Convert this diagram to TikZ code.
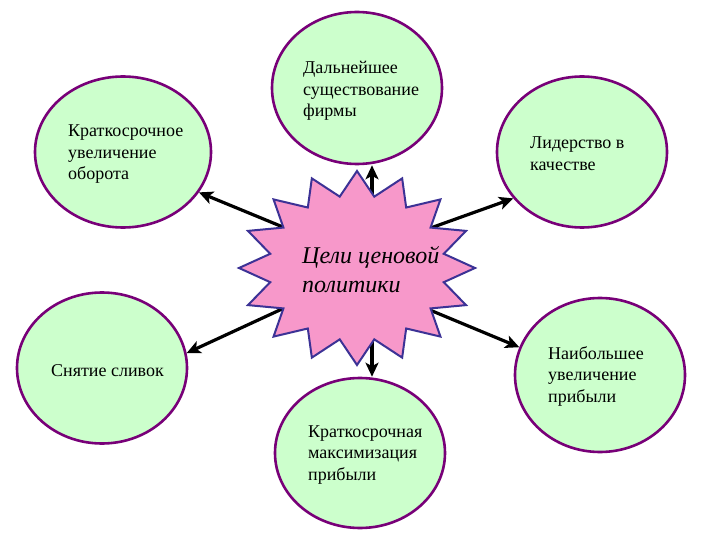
\documentclass[tikz,border=0pt]{standalone}
\usepackage{fontspec}
\setmainfont{Liberation Serif}
\usetikzlibrary{shapes.geometric,arrows.meta}
\definecolor{ellfill}{RGB}{204,255,204}
\definecolor{elldraw}{RGB}{120,0,120}
\definecolor{starfill}{RGB}{247,152,202}
\definecolor{stardraw}{RGB}{60,50,150}
\newcommand\mylines[1]{\parbox[t]{6cm}{\raggedright #1}}
\tikzset{
  goalell/.style={ellipse, draw=elldraw, fill=ellfill, line width=2.6pt, inner sep=0pt},
  lbl/.style={anchor=base west, inner sep=0pt, font=\fontsize{18}{21.5}\selectfont},
  bigtxt/.style={anchor=base west, inner sep=0pt, font=\fontsize{24}{29}\selectfont\itshape},
  arr/.style={line width=3.2pt, -{Stealth[length=14pt,width=13pt,inset=3.5pt]}},
  starsty/.style={draw=stardraw, fill=starfill, line width=2pt, line join=miter}
}
\begin{document}
\begin{tikzpicture}[x=1pt,y=-1pt]
\useasboundingbox[fill=white] (0,0) rectangle (720,540);
% ellipses
\node[goalell, minimum width=176pt, minimum height=151pt] (tl) at (123,152) {};
\node[goalell, minimum width=170pt, minimum height=152pt] (top) at (357,88) {};
\node[goalell, minimum width=170pt, minimum height=151pt] (tr) at (582,152) {};
\node[goalell, minimum width=170pt, minimum height=151pt] (lft) at (102,368) {};
\node[goalell, minimum width=170pt, minimum height=154pt] (rgt) at (600,375) {};
\node[goalell, minimum width=170pt, minimum height=150pt] (bot) at (360,453) {};
% texts
\node[lbl] (ttl) at (68,137) {\mylines{Краткосрочное\\увеличение\\оборота}};
\node[lbl] (ttop) at (303,74) {\mylines{Дальнейшее\\существование\\фирмы}};
\node[lbl] (ttr) at (530,149) {\mylines{Лидерство в\\качестве}};
\node[lbl] (tlft) at (51,376) {\mylines{Снятие сливок}};
\node[lbl] (trgt) at (548,359) {\mylines{Наибольшее\\увеличение\\прибыли}};
\node[lbl] (tbot) at (308,437) {\mylines{Краткосрочная\\максимизация\\прибыли}};
% arrow start points on the star
\coordinate (sup) at (372,215);
\coordinate (sdn) at (372,320);
\coordinate (sul) at (295,232);
\coordinate (sur) at (425,230);
\coordinate (sll) at (295,303);
\coordinate (slr) at (425,308);
\draw[arr] (sup) -- (sup |- top.south);
\draw[arr] (sdn) -- (sdn |- bot.north);
\draw[arr] (sul) -- (tl.-28);
\draw[arr] (sur) -- (tr.214);
\draw[arr] (sll) -- (lft.10);
\draw[arr] (slr) -- (rgt.161);
% star
\draw[starsty] plot[samples at={0,...,31}]
  ({357+118*(0.875+0.125*cos(\x*180))*cos(90+\x*11.25)},
   {268+97*(0.875+0.125*cos(\x*180))*sin(90+\x*11.25)}) -- cycle;
\node[bigtxt] (goal) at (302,263) {\mylines{Цели ценовой\\политики}};
\end{tikzpicture}
\end{document}
